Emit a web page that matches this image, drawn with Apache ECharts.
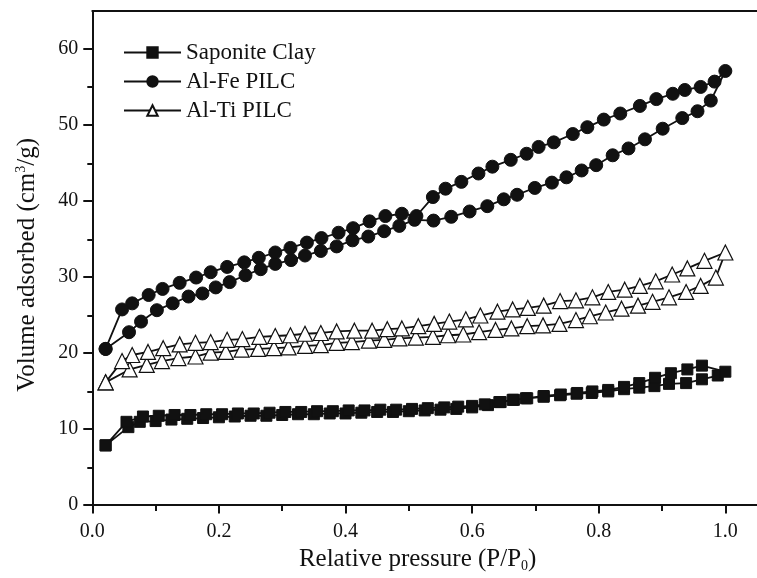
<!DOCTYPE html>
<html>
<head>
<meta charset="utf-8">
<script src="https://cdn.jsdelivr.net/npm/echarts@6/dist/echarts.min.js"></script>
<style>html,body{margin:0;padding:0;background:#fff;}#c{width:757px;height:578px;}</style>
</head>
<body>
<div id="c"></div>
<script>
// ---- Data ----
var seriesNames = ['Saponite Clay', 'Al-Fe PILC', 'Al-Ti PILC'];
var xTickLabels = [0, 0.2, 0.4, 0.6, 0.8, 1.0];
var xMinorTicks = [0.1, 0.3, 0.5, 0.7, 0.9];
var yTickLabels = [0, 10, 20, 30, 40, 50, 60];
var yMinorTicks = [5, 15, 25, 35, 45, 55];

// Saponite Clay – adsorption branch
var sapAdsX = [0.021,0.057,0.075,0.100,0.125,0.150,0.175,0.200,0.225,0.250,0.275,0.300,0.325,0.350,0.375,0.400,0.425,0.450,0.475,0.500,0.525,0.550,0.575,0.600,0.625,0.645,0.666,0.687,0.713,0.739,0.765,0.789,0.815,0.840,0.864,0.888,0.911,0.938,0.963,0.988,1.000];
var sapAdsY = [7.8,10.2,10.9,11.0,11.2,11.3,11.4,11.5,11.6,11.7,11.7,11.8,11.9,11.9,12.0,12.0,12.1,12.2,12.2,12.3,12.4,12.5,12.6,12.8,13.1,13.5,13.8,14.0,14.2,14.4,14.6,14.7,14.9,15.2,15.4,15.6,15.9,16.0,16.5,17.0,17.5];
// Saponite Clay – desorption branch
var sapDesX = [0.963,0.940,0.914,0.889,0.864,0.840,0.815,0.790,0.766,0.740,0.713,0.685,0.664,0.643,0.620,0.600,0.578,0.556,0.530,0.505,0.480,0.455,0.430,0.405,0.380,0.355,0.330,0.305,0.280,0.255,0.230,0.205,0.180,0.155,0.130,0.105,0.080,0.054,0.021];
var sapDesY = [18.3,17.8,17.3,16.7,16.0,15.5,15.1,14.9,14.7,14.5,14.3,14.0,13.8,13.5,13.2,13.0,12.9,12.8,12.7,12.6,12.5,12.5,12.4,12.4,12.3,12.3,12.2,12.2,12.1,12.0,12.0,11.9,11.9,11.8,11.8,11.7,11.6,10.9,7.8];

// Al-Fe PILC – adsorption branch
var feAdsX = [0.021,0.058,0.077,0.102,0.127,0.152,0.174,0.195,0.217,0.242,0.266,0.289,0.314,0.336,0.361,0.386,0.411,0.436,0.461,0.485,0.509,0.539,0.567,0.596,0.624,0.650,0.671,0.699,0.726,0.749,0.773,0.796,0.822,0.847,0.873,0.901,0.932,0.956,0.977,1.000];
var feAdsY = [20.5,22.7,24.1,25.6,26.5,27.4,27.8,28.6,29.3,30.2,31.0,31.7,32.2,32.8,33.4,34.0,34.8,35.3,36.0,36.7,37.5,37.4,37.9,38.6,39.3,40.2,40.8,41.7,42.4,43.1,44.0,44.7,46.0,46.9,48.1,49.5,50.9,51.8,53.2,57.1];
// Al-Fe PILC – desorption branch
var feDesX = [0.983,0.961,0.936,0.917,0.891,0.865,0.834,0.808,0.782,0.759,0.729,0.705,0.686,0.661,0.632,0.610,0.583,0.558,0.538,0.512,0.489,0.463,0.438,0.412,0.389,0.362,0.339,0.313,0.289,0.263,0.240,0.213,0.187,0.164,0.138,0.111,0.089,0.063,0.047,0.021];
var feDesY = [55.7,55.0,54.6,54.1,53.4,52.5,51.5,50.7,49.7,48.8,47.7,47.1,46.2,45.4,44.5,43.6,42.5,41.6,40.5,38.0,38.3,38.0,37.3,36.4,35.8,35.1,34.5,33.8,33.2,32.5,31.9,31.3,30.6,29.9,29.2,28.4,27.6,26.5,25.7,20.5];

// Al-Ti PILC – adsorption branch
var tiAdsX = [0.021,0.059,0.086,0.110,0.136,0.163,0.187,0.211,0.236,0.262,0.287,0.310,0.336,0.361,0.386,0.410,0.437,0.461,0.485,0.511,0.538,0.562,0.586,0.611,0.637,0.662,0.687,0.712,0.738,0.764,0.786,0.811,0.836,0.862,0.885,0.911,0.938,0.961,0.985,1.000];
var tiAdsY = [16.1,17.8,18.4,18.9,19.3,19.5,20.0,20.1,20.4,20.5,20.6,20.7,20.9,21.0,21.3,21.4,21.6,21.7,21.9,22.0,22.1,22.3,22.4,22.7,23.0,23.2,23.5,23.6,23.8,24.3,24.8,25.3,25.8,26.2,26.7,27.3,28.0,28.8,29.9,33.2];
// Al-Ti PILC – desorption branch
var tiDesX = [0.967,0.940,0.916,0.890,0.865,0.841,0.815,0.790,0.764,0.739,0.713,0.688,0.664,0.640,0.613,0.590,0.564,0.540,0.515,0.489,0.466,0.442,0.414,0.386,0.361,0.336,0.313,0.289,0.264,0.237,0.213,0.187,0.163,0.138,0.112,0.088,0.063,0.047,0.021];
var tiDesY = [32.1,31.1,30.3,29.4,28.8,28.3,28.0,27.3,26.9,26.8,26.2,25.9,25.7,25.4,24.9,24.4,24.1,23.8,23.5,23.2,23.1,22.9,22.9,22.8,22.6,22.5,22.3,22.2,22.1,21.8,21.7,21.4,21.3,21.1,20.6,20.1,19.7,18.9,16.1];

function pairs(xs, ys) { return xs.map(function (x, i) { return [x, ys[i]]; }); }
function loop(ax, ay, dx, dy) { return pairs(ax, ay).concat(pairs(dx, dy)); }

var FONT = "'Liberation Serif','Times New Roman',serif";
var INK = '#111';

var chart = echarts.init(document.getElementById('c'), null, { renderer: 'canvas' });

var baseSeries = {
  type: 'line',
  xAxisIndex: 0,
  yAxisIndex: 0,
  lineStyle: { color: INK, width: 1.8 },
  itemStyle: { color: INK, borderColor: INK, borderWidth: 1 },
  showAllSymbol: true,
  animation: false,
  z: 3
};

chart.setOption({
  backgroundColor: '#fff',
  animation: false,
  grid: [
    { left: 92.3, top: 11, width: 669.4, height: 495, containLabel: false },
    { left: 92.3, top: 11, width: 669.4, height: 495, containLabel: false }
  ],
  legend: {
    orient: 'vertical',
    left: 118,
    top: 36,
    itemWidth: 57,
    itemHeight: 13,
    itemGap: 6,
    textStyle: { fontFamily: FONT, fontSize: 23, color: INK },
    data: seriesNames
  },
  xAxis: [
    {
      gridIndex: 0, type: 'value', position: 'bottom', min: 0, max: 1.05,
      axisLine: { show: true, onZero: false, lineStyle: { color: INK, width: 2 } },
      axisTick: { show: true, inside: false, length: 9, customValues: xTickLabels, lineStyle: { color: INK, width: 2 } },
      axisLabel: { show: true, customValues: xTickLabels, margin: 17, fontFamily: FONT, fontSize: 20, color: INK,
        formatter: function (v) { return v.toFixed(1); } },
      splitLine: { show: false },
      name: 'Relative pressure (P/P{sub|0})',
      nameLocation: 'middle',
      nameGap: 37,
      nameTextStyle: { fontFamily: FONT, fontSize: 25, color: INK, padding: [0, 14, 0, 0],
        rich: { sub: { fontFamily: FONT, fontSize: 14, color: INK, verticalAlign: 'bottom', padding: [14, 0, 0, 0] } } }
    },
    {
      gridIndex: 0, type: 'value', position: 'top', min: 0, max: 1.05,
      axisLine: { show: true, onZero: false, lineStyle: { color: INK, width: 2 } },
      axisTick: { show: false }, axisLabel: { show: false }, splitLine: { show: false }
    },
    {
      gridIndex: 1, type: 'value', position: 'bottom', min: 0, max: 1.05,
      axisLine: { show: false, onZero: false },
      axisTick: { show: true, inside: false, length: 5, customValues: xMinorTicks, lineStyle: { color: INK, width: 2 } },
      axisLabel: { show: false, customValues: xMinorTicks }, splitLine: { show: false }
    }
  ],
  yAxis: [
    {
      gridIndex: 0, type: 'value', position: 'left', min: 0, max: 65,
      axisLine: { show: true, onZero: false, lineStyle: { color: INK, width: 2 } },
      axisTick: { show: true, inside: false, length: 9, customValues: yTickLabels, lineStyle: { color: INK, width: 2 } },
      axisLabel: { show: true, customValues: yTickLabels, margin: 14, fontFamily: FONT, fontSize: 20, color: INK },
      splitLine: { show: false },
      name: 'Volume adsorbed (cm{sup|3}/g)',
      nameLocation: 'middle',
      nameGap: 52,
      nameTextStyle: { fontFamily: FONT, fontSize: 25, color: INK, padding: [0, 14, 0, 0],
        rich: { sup: { fontFamily: FONT, fontSize: 14, color: INK, verticalAlign: 'top', padding: [0, 0, 12, 0] } } }
    },
    {
      gridIndex: 1, type: 'value', position: 'left', min: 0, max: 65,
      axisLine: { show: false, onZero: false },
      axisTick: { show: true, inside: false, length: 5, customValues: yMinorTicks, lineStyle: { color: INK, width: 2 } },
      axisLabel: { show: false, customValues: yMinorTicks }, splitLine: { show: false }
    }
  ],
  series: [
    Object.assign({}, baseSeries, {
      name: seriesNames[0], symbol: 'rect', symbolSize: 11,
      data: loop(sapAdsX, sapAdsY, sapDesX, sapDesY)
    }),
    Object.assign({}, baseSeries, {
      name: seriesNames[1], symbol: 'circle', symbolSize: 13,
      data: loop(feAdsX, feAdsY, feDesX, feDesY)
    }),
    Object.assign({}, baseSeries, {
      name: seriesNames[2], symbol: 'triangle', symbolSize: 15,
      itemStyle: { color: '#fff', borderColor: INK, borderWidth: 1.2 },
      data: loop(tiAdsX, tiAdsY, tiDesX, tiDesY)
    })
  ]
});
</script>
</body>
</html>
